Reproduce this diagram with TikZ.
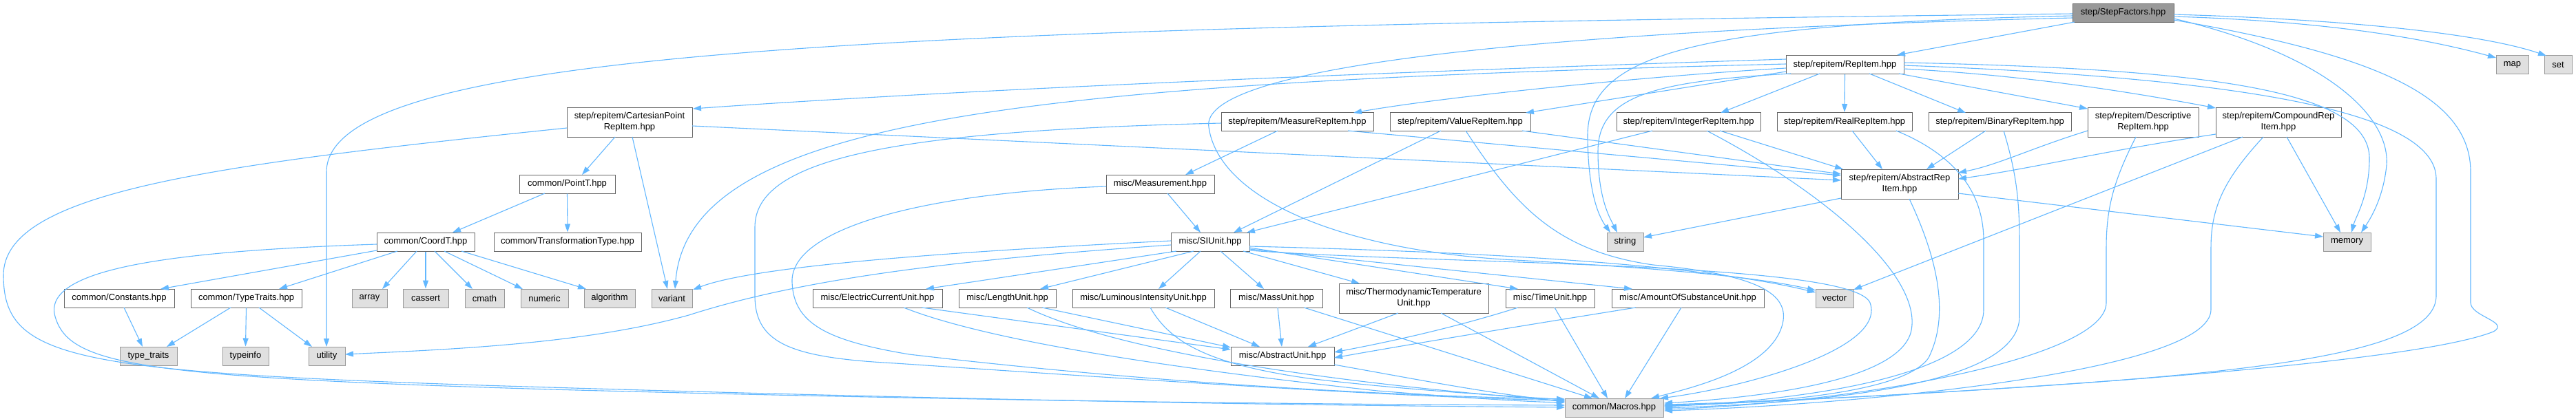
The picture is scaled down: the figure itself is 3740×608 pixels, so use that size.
\documentclass[tikz,border=0pt]{standalone}
\usepackage{fontspec}
\setmainfont{Liberation Sans}
\usetikzlibrary{arrows.meta}
\definecolor{edgeblue}{HTML}{63B8FF}
\definecolor{boxedge}{HTML}{666666}
\definecolor{extedge}{HTML}{999999}
\definecolor{extfill}{HTML}{E0E0E0}
\definecolor{sffill}{HTML}{999999}
\begin{document}
\begin{tikzpicture}[x=1pt,y=-1pt,
  box/.style={draw=boxedge, fill=white, line width=1pt, inner sep=0pt,
    font=\fontsize{13}{16}\selectfont, align=center, minimum height=27pt},
  tall/.style={minimum height=43pt},
  ext/.style={draw=extedge, fill=extfill},
  edge/.style={draw=edgeblue, line width=1.1pt, -{Triangle[length=12pt,width=8pt]}}]
\useasboundingbox (0,0) rectangle (3740,608);
\fill[white] (0,0) rectangle (3740,608);
% ---------- nodes ----------
\node[box, fill=sffill, minimum width=147pt] (SF) at (3082.5,18.5) {step/StepFactors.hpp};
\node[box, minimum width=171pt] (RI) at (2678.5,94) {step/repitem/RepItem.hpp};
\node[box, ext, minimum width=47pt] (map) at (3647.5,94) {map};
\node[box, ext, minimum width=40pt] (set) at (3714,94) {set};
\node[box, minimum width=221pt] (MR) at (1883.5,177) {step/repitem/MeasureRepItem.hpp};
\node[box, minimum width=204pt] (VR) at (2120,177) {step/repitem/ValueRepItem.hpp};
\node[box, minimum width=209pt] (IR) at (2451.5,177) {step/repitem/IntegerRepItem.hpp};
\node[box, minimum width=196pt] (RR) at (2678,177) {step/repitem/RealRepItem.hpp};
\node[box, minimum width=207pt] (BR) at (2903.5,177) {step/repitem/BinaryRepItem.hpp};
\node[box, tall, minimum width=182pt] (CP) at (914,177.5) {step/repitem/CartesianPoint\\RepItem.hpp};
\node[box, tall, minimum width=161pt] (DR) at (3111.5,177.5) {step/repitem/Descriptive\\RepItem.hpp};
\node[box, tall, minimum width=182pt] (CR) at (3308,177.5) {step/repitem/CompoundRep\\Item.hpp};
\node[box, minimum width=139pt] (PT) at (823.5,267.5) {common/PointT.hpp};
\node[box, minimum width=157pt] (MS) at (1684.5,267.5) {misc/Measurement.hpp};
\node[box, tall, minimum width=170pt] (AR) at (2758,267.5) {step/repitem/AbstractRep\\Item.hpp};
\node[box, minimum width=142pt] (CT) at (618,351.5) {common/CoordT.hpp};
\node[box, minimum width=214pt] (TR) at (824,351.5) {common/TransformationType.hpp};
\node[box, minimum width=114pt] (SI) at (1757,351.5) {misc/SIUnit.hpp};
\node[box, ext, minimum width=53pt] (str) at (2359.5,351.5) {string};
\node[box, ext, minimum width=69pt] (mem) at (3407.5,351.5) {memory};
\node[box, minimum width=160pt] (CS) at (173,433.5) {common/Constants.hpp};
\node[box, minimum width=161pt] (TY) at (357.5,433.5) {common/TypeTraits.hpp};
\node[box, ext, minimum width=51pt] (arr) at (536.5,433.5) {array};
\node[box, ext, minimum width=66pt] (cas) at (618,433.5) {cassert};
\node[box, ext, minimum width=57pt] (cma) at (703.5,433.5) {cmath};
\node[box, ext, minimum width=69pt] (num) at (790.5,433.5) {numeric};
\node[box, ext, minimum width=74pt] (alg) at (885,433.5) {algorithm};
\node[box, ext, minimum width=59pt] (var) at (975.5,433.5) {variant};
\node[box, minimum width=188pt] (EC) at (1274,433.5) {misc/ElectricCurrentUnit.hpp};
\node[box, minimum width=141pt] (LU) at (1462.5,433.5) {misc/LengthUnit.hpp};
\node[box, minimum width=206pt] (LI) at (1660,433.5) {misc/LuminousIntensityUnit.hpp};
\node[box, minimum width=134pt] (MU) at (1853,433.5) {misc/MassUnit.hpp};
\node[box, tall, minimum width=217pt] (TT) at (2052.5,433.5) {misc/ThermodynamicTemperature\\Unit.hpp};
\node[box, minimum width=129pt] (TU) at (2250.5,433.5) {misc/TimeUnit.hpp};
\node[box, minimum width=221pt] (AS) at (2450.5,433.5) {misc/AmountOfSubstanceUnit.hpp};
\node[box, ext, minimum width=55pt] (vec) at (2663.5,433.5) {vector};
\node[box, ext, minimum width=83pt] (tyt) at (215.5,517.5) {type\_traits};
\node[box, ext, minimum width=67pt] (tyi) at (356.5,517.5) {typeinfo};
\node[box, ext, minimum width=53pt] (uti) at (474.5,517.5) {utility};
\node[box, minimum width=150pt] (AU) at (1862,517.5) {misc/AbstractUnit.hpp};
\node[box, ext, minimum width=143pt] (MC) at (2343.5,592.5) {common/Macros.hpp};
% ---------- edges ----------
% StepFactors
\draw[edge] ([shift={(-70.5,13.5)}]SF.center) -- ([shift={(75.5,-14)}]RI.center);
\draw[edge] ([shift={(73.5,5.5)}]SF.center) .. controls (3350,30) and (3500,50) .. ([shift={(-23.5,-10)}]map.center);
\draw[edge] ([shift={(73.5,2.5)}]SF.center) .. controls (3400,28) and (3600,48) .. ([shift={(-17,-13)}]set.center);
\draw[edge] ([shift={(73.5,8.5)}]SF.center) .. controls (3380,80) and (3470,170) .. (3465,240) .. controls (3460,290) and (3440,320) .. ([shift={(20.5,-13.5)}]mem.center);
\draw[edge] ([shift={(73.5,10.5)}]SF.center) .. controls (3450,80) and (3587,140) .. (3587,250) -- (3587,440) .. controls (3587,460) and (3645,468) .. (3620,482) .. controls (3500,530) and (2900,570) .. ([shift={(72.5,-2.5)}]MC.center);
\draw[edge] ([shift={(-73.5,1.5)}]SF.center) .. controls (1300,40) and (474,70) .. (474,250) -- ([shift={(-0.5,-13.5)}]uti.center);
\draw[edge] ([shift={(-73.5,4.5)}]SF.center) .. controls (2450,35) and (2303,80) .. (2305,200) .. controls (2306,290) and (2325,320) .. ([shift={(-21.5,-13.5)}]str.center);
\draw[edge] ([shift={(-73.5,7.5)}]SF.center) .. controls (2200,45) and (1740,100) .. (1755,185) .. controls (1770,290) and (1950,365) .. (2200,378) .. controls (2450,392) and (2560,405) .. ([shift={(-27.5,-11.5)}]vec.center);
% RepItem
\draw[edge] ([shift={(-85.5,-8)}]RI.center) .. controls (2000,105) and (1400,130) .. ([shift={(92,-19.5)}]CP.center);
\draw[edge] ([shift={(-85.5,-1)}]RI.center) .. controls (1500,120) and (1000,170) .. ([shift={(4.5,-13.5)}]var.center);
\draw[edge] ([shift={(-85.5,5)}]RI.center) .. controls (2400,110) and (2100,140) .. ([shift={(81.5,-13)}]MR.center);
\draw[edge] ([shift={(-85.5,10)}]RI.center) -- ([shift={(95,-13)}]VR.center);
\draw[edge] ([shift={(-36.5,13)}]RI.center) -- ([shift={(46.5,-13)}]IR.center);
\draw[edge] (RI.south) -- (RR.north);
\draw[edge] ([shift={(35.5,13)}]RI.center) -- ([shift={(-49.5,-13)}]BR.center);
\draw[edge] ([shift={(78.5,13)}]RI.center) -- ([shift={(-80.5,-19.5)}]DR.center);
\draw[edge] ([shift={(85.5,6)}]RI.center) .. controls (2950,110) and (3100,135) .. ([shift={(-91,-20.5)}]CR.center);
\draw[edge] ([shift={(85.5,-3)}]RI.center) .. controls (3200,100) and (3440,130) .. (3440,230) .. controls (3440,285) and (3420,315) .. ([shift={(6.5,-13.5)}]mem.center);
\draw[edge] ([shift={(85.5,1)}]RI.center) .. controls (3300,115) and (3537,170) .. (3537,260) -- (3537,430) .. controls (3537,510) and (3300,540) .. (2900,565) .. controls (2700,578) and (2500,586) .. ([shift={(72.5,-4.5)}]MC.center);
\draw[edge] ([shift={(-78.5,13)}]RI.center) .. controls (2400,118) and (2320,140) .. (2320,220) .. controls (2320,290) and (2338,318) .. ([shift={(-11.5,-13.5)}]str.center);
% CartesianPoint
\draw[edge] ([shift={(91,5.5)}]CP.center) -- ([shift={(-85,-5.5)}]AR.center);
\draw[edge] ([shift={(-21,21.5)}]CP.center) -- ([shift={(21.5,-13.5)}]PT.center);
\draw[edge] ([shift={(4,21.5)}]CP.center) -- ([shift={(-6.5,-13.5)}]var.center);
\draw[edge] ([shift={(-91,8.5)}]CP.center) .. controls (300,240) and (5,280) .. (5,400) .. controls (5,520) and (100,540) .. (700,560) .. controls (1500,585) and (2000,590) .. ([shift={(-71.5,-0.5)}]MC.center);
% PointT, CoordT
\draw[edge] ([shift={(-32.5,13.5)}]PT.center) -- ([shift={(39,-13.5)}]CT.center);
\draw[edge] (PT.south) -- (TR.north);
\draw[edge] ([shift={(-71,3.5)}]CT.center) .. controls (250,365) and (60,390) .. (80,460) .. controls (100,530) and (200,548) .. (800,566) .. controls (1500,585) and (2000,588) .. ([shift={(-71.5,-3.5)}]MC.center);
\draw[edge] ([shift={(-71,12.5)}]CT.center) -- ([shift={(60,-13.5)}]CS.center);
\draw[edge] ([shift={(-41,13.5)}]CT.center) -- ([shift={(47.5,-13.5)}]TY.center);
\draw[edge] ([shift={(-13,13.5)}]CT.center) -- ([shift={(18.5,-13.5)}]arr.center);
\draw[edge] (CT.south) -- (cas.north);
\draw[edge] ([shift={(13,13.5)}]CT.center) -- ([shift={(-17.5,-13.5)}]cma.center);
\draw[edge] ([shift={(27,13.5)}]CT.center) -- ([shift={(-31.5,-13.5)}]num.center);
\draw[edge] ([shift={(52,13.5)}]CT.center) -- ([shift={(-34,-13.5)}]alg.center);
\draw[edge] ([shift={(7,13.5)}]CS.center) -- ([shift={(-8.5,-13.5)}]tyt.center);
\draw[edge] ([shift={(-22.5,13.5)}]TY.center) -- ([shift={(26.5,-13.5)}]tyt.center);
\draw[edge] (TY.south) -- (tyi.north);
\draw[edge] ([shift={(18.5,13.5)}]TY.center) -- ([shift={(-21.5,-13.5)}]uti.center);
% MeasureRepItem, Measurement
\draw[edge] ([shift={(-28.5,13)}]MR.center) -- ([shift={(36.5,-13.5)}]MS.center);
\draw[edge] ([shift={(73.5,13)}]MR.center) -- ([shift={(-85,-12.5)}]AR.center);
\draw[edge] ([shift={(-110.5,2)}]MR.center) .. controls (1300,190) and (1096,230) .. (1096,330) -- (1096,430) .. controls (1096,500) and (1150,520) .. (1300,528) .. controls (1700,555) and (2050,578) .. ([shift={(-71.5,-10.5)}]MC.center);
\draw[edge] ([shift={(10.5,13.5)}]MS.center) -- ([shift={(-14,-13.5)}]SI.center);
\draw[edge] ([shift={(-78.5,3.5)}]MS.center) .. controls (1350,280) and (1147,330) .. (1150,410) .. controls (1152,470) and (1200,495) .. (1320,515) .. controls (1700,560) and (2050,576) .. ([shift={(-71.5,-12.5)}]MC.center);
% ValueRepItem
\draw[edge] ([shift={(-28,13)}]VR.center) -- ([shift={(34,-13.5)}]SI.center);
\draw[edge] ([shift={(90,13)}]VR.center) -- ([shift={(-85,-14.5)}]AR.center);
\draw[edge] ([shift={(8,13)}]VR.center) .. controls (2200,300) and (2260,365) .. (2400,385) .. controls (2560,400) and (2605,430) .. (2585,480) .. controls (2560,540) and (2450,565) .. ([shift={(53.5,-13.5)}]MC.center);
% IntegerRepItem
\draw[edge] ([shift={(-52.5,13)}]IR.center) -- ([shift={(53,-13.5)}]SI.center);
\draw[edge] ([shift={(45.5,13)}]IR.center) -- ([shift={(-82,-21.5)}]AR.center);
\draw[edge] ([shift={(26.5,13)}]IR.center) .. controls (2650,280) and (2790,400) .. (2775,480) .. controls (2760,555) and (2550,578) .. ([shift={(72.5,-6.5)}]MC.center);
% RealRepItem, BinaryRepItem
\draw[edge] ([shift={(11,13)}]RR.center) -- ([shift={(-25,-21.5)}]AR.center);
\draw[edge] ([shift={(75,13)}]RR.center) .. controls (2850,230) and (2880,290) .. (2880,350) -- (2880,450) .. controls (2880,540) and (2650,580) .. ([shift={(72.5,-1.5)}]MC.center);
\draw[edge] ([shift={(-20.5,13)}]BR.center) -- ([shift={(39,-21.5)}]AR.center);
\draw[edge] ([shift={(5.5,13)}]BR.center) .. controls (2930,260) and (2932,300) .. (2932,360) -- (2932,460) .. controls (2932,560) and (2650,585) .. ([shift={(72.5,0.5)}]MC.center);
% Descriptive, Compound
\draw[edge] ([shift={(-80.5,12.5)}]DR.center) .. controls (2950,215) and (2900,240) .. ([shift={(85,-16.5)}]AR.center);
\draw[edge] ([shift={(-10.5,21.5)}]DR.center) .. controls (3070,260) and (3058,300) .. (3058,360) -- (3058,440) .. controls (3058,520) and (2700,585) .. ([shift={(72.5,2.5)}]MC.center);
\draw[edge] ([shift={(-91,17.5)}]CR.center) .. controls (3050,220) and (2950,245) .. ([shift={(85,-7.5)}]AR.center);
\draw[edge] ([shift={(-52,21.5)}]CR.center) -- ([shift={(27.5,-12.5)}]vec.center);
\draw[edge] ([shift={(-22,21.5)}]CR.center) .. controls (3230,260) and (3210,300) .. (3210,360) -- (3210,450) .. controls (3210,540) and (2700,588) .. ([shift={(72.5,4.5)}]MC.center);
\draw[edge] ([shift={(12,21.5)}]CR.center) -- ([shift={(-9.5,-13.5)}]mem.center);
% AbstractRepItem
\draw[edge] ([shift={(-85,20.5)}]AR.center) -- ([shift={(26.5,-6.5)}]str.center);
\draw[edge] ([shift={(85,13.5)}]AR.center) -- ([shift={(-34.5,-7.5)}]mem.center);
\draw[edge] ([shift={(14,21.5)}]AR.center) .. controls (2815,380) and (2830,460) .. (2800,520) .. controls (2760,580) and (2500,588) .. ([shift={(72.5,-3.5)}]MC.center);
% SIUnit
\draw[edge] ([shift={(-57,-1.5)}]SI.center) .. controls (1400,365) and (1100,385) .. ([shift={(30.5,-12.5)}]var.center);
\draw[edge] ([shift={(-57,4.5)}]SI.center) .. controls (1350,380) and (1150,410) .. (1000,458) .. controls (850,500) and (650,508) .. ([shift={(26.5,-2.5)}]uti.center);
\draw[edge] ([shift={(-49,13.5)}]SI.center) -- ([shift={(70,-13.5)}]EC.center);
\draw[edge] ([shift={(-24,13.5)}]SI.center) -- ([shift={(47.5,-13.5)}]LU.center);
\draw[edge] ([shift={(-14,13.5)}]SI.center) -- ([shift={(22,-13.5)}]LI.center);
\draw[edge] ([shift={(15,13.5)}]SI.center) -- ([shift={(-18,-13.5)}]MU.center);
\draw[edge] ([shift={(48,13.5)}]SI.center) -- ([shift={(-78.5,-21.5)}]TT.center);
\draw[edge] ([shift={(57,8.5)}]SI.center) -- ([shift={(-46.5,-13.5)}]TU.center);
\draw[edge] ([shift={(57,10.5)}]SI.center) -- ([shift={(-80.5,-13.5)}]AS.center);
\draw[edge] ([shift={(57,6.5)}]SI.center) .. controls (2100,365) and (2450,380) .. ([shift={(-27.5,-8.5)}]vec.center);
\draw[edge] ([shift={(57,12.5)}]SI.center) .. controls (2100,385) and (2690,380) .. (2715,440) .. controls (2740,510) and (2520,565) .. ([shift={(66.5,-13.5)}]MC.center);
% unit headers
\draw[edge] ([shift={(64,13.5)}]EC.center) -- ([shift={(-75,-9.5)}]AU.center);
\draw[edge] ([shift={(38,13.5)}]EC.center) .. controls (1420,490) and (1650,530) .. (2000,568) .. controls (2150,580) and (2220,584) .. ([shift={(-71.5,-7.5)}]MC.center);
\draw[edge] ([shift={(50.5,13.5)}]LU.center) -- ([shift={(-75,-12.5)}]AU.center);
\draw[edge] ([shift={(28.5,13.5)}]LU.center) .. controls (1600,500) and (1850,550) .. ([shift={(-71.5,-9.5)}]MC.center);
\draw[edge] ([shift={(32,13.5)}]LI.center) -- ([shift={(-33,-13.5)}]AU.center);
\draw[edge] ([shift={(10,13.5)}]LI.center) .. controls (1700,500) and (1760,530) .. (1900,550) .. controls (2050,568) and (2200,576) .. ([shift={(-71.5,-11.5)}]MC.center);
\draw[edge] ([shift={(2,13.5)}]MU.center) -- ([shift={(-1,-13.5)}]AU.center);
\draw[edge] ([shift={(40,13.5)}]MU.center) -- ([shift={(-31.5,-13.5)}]MC.center);
\draw[edge] ([shift={(-22.5,21.5)}]TT.center) -- ([shift={(37,-13.5)}]AU.center);
\draw[edge] ([shift={(39.5,21.5)}]TT.center) -- ([shift={(-21.5,-13.5)}]MC.center);
\draw[edge] ([shift={(-46.5,13.5)}]TU.center) .. controls (2100,480) and (2000,500) .. ([shift={(75,-5.5)}]AU.center);
\draw[edge] ([shift={(6.5,13.5)}]TU.center) -- ([shift={(-9.5,-13.5)}]MC.center);
\draw[edge] ([shift={(-75.5,13.5)}]AS.center) .. controls (2200,475) and (2050,500) .. ([shift={(75,2.5)}]AU.center);
\draw[edge] ([shift={(-9.5,13.5)}]AS.center) -- ([shift={(15.5,-13.5)}]MC.center);
\draw[edge] ([shift={(75,12.5)}]AU.center) .. controls (2050,550) and (2150,570) .. ([shift={(-71.5,-8.5)}]MC.center);
\end{tikzpicture}
\end{document}
